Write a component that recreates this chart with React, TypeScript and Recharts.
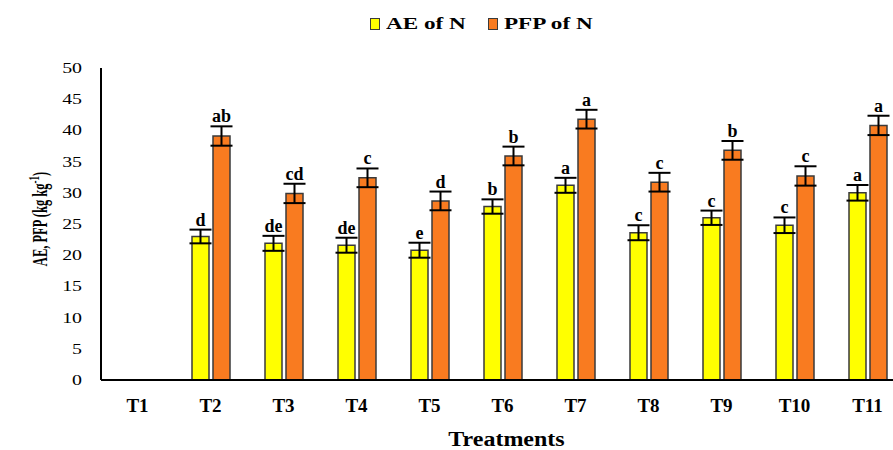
import React from 'react';
import { BarChart, Bar, XAxis, YAxis, ErrorBar, LabelList, Label } from 'recharts';

const categories = ['T1', 'T2', 'T3', 'T4', 'T5', 'T6', 'T7', 'T8', 'T9', 'T10', 'T11'];
const aeValues = [null, 23.0, 21.9, 21.6, 20.8, 27.8, 31.2, 23.6, 26.0, 24.8, 30.0];
const pfpValues = [null, 39.1, 29.9, 32.4, 28.7, 35.9, 41.8, 31.7, 36.8, 32.7, 40.8];
const aeErrors = [null, 1.1, 1.2, 1.2, 1.2, 1.15, 1.2, 1.2, 1.15, 1.25, 1.25];
const pfpErrors = [null, 1.55, 1.55, 1.5, 1.5, 1.5, 1.5, 1.5, 1.5, 1.55, 1.55];
const aeLetters = ['', 'd', 'de', 'de', 'e', 'b', 'a', 'c', 'c', 'c', 'a'];
const pfpLetters = ['', 'ab', 'cd', 'c', 'd', 'b', 'a', 'c', 'b', 'c', 'a'];
const yTicks = [0, 5, 10, 15, 20, 25, 30, 35, 40, 45, 50];

const data = categories.map((name, i) => ({
  name,
  ae: aeValues[i],
  pfp: pfpValues[i],
  aeErr: aeErrors[i],
  pfpErr: pfpErrors[i],
}));

const FONT = '"Liberation Serif", "Times New Roman", serif';
const YELLOW = '#ffff00';
const ORANGE = '#f97b20';
const EDGE = '#3a3a3a';

// letters sit just above the error bar cap; look up by category since index skips empty bars
function makeLetterLabel(letters: string[], values: (number | null)[], errors: (number | null)[]) {
  return (props: any) => {
    const { x, y, width, height, value } = props;
    const i = categories.indexOf(value);
    if (i < 0) return null;
    const v = values[i];
    const e = errors[i];
    if (v == null || !letters[i]) return null;
    const pxPerUnit = Number(height) / v;
    const top = Number(y) - (e || 0) * pxPerUnit;
    return (
      <text
        x={Number(x) + Number(width) / 2}
        y={top - 4}
        textAnchor="middle"
        fontFamily={FONT}
        fontWeight="bold"
        fontSize={18}
        fill="#000"
      >
        {letters[i]}
      </text>
    );
  };
}

const YTick = (props: any) => {
  const { x, y, payload } = props;
  return (
    <text
      transform={`translate(${x},${y}) scale(1.42,1)`}
      textAnchor="end"
      dy="0.35em"
      fontFamily={FONT}
      fontSize={14}
      fill="#000"
    >
      {payload.value}
    </text>
  );
};

const legendItems = [
  { label: 'AE of N', color: YELLOW, left: 370 },
  { label: 'PFP of N', color: ORANGE, left: 488 },
];

function ChartLegend() {
  return (
    <>
      {legendItems.map((it) => (
        <div key={it.label} style={{ position: 'absolute', left: it.left, top: 14, height: 22 }}>
          <span
            style={{
              position: 'absolute',
              left: 0,
              top: 4,
              width: 8,
              height: 10,
              background: it.color,
              border: `1.5px solid ${EDGE}`,
            }}
          />
          <span
            style={{
              position: 'absolute',
              left: 16,
              top: 0,
              whiteSpace: 'nowrap',
              fontFamily: FONT,
              fontWeight: 'bold',
              fontSize: 17,
              lineHeight: '20px',
              transform: 'scaleX(1.36)',
              transformOrigin: 'left center',
            }}
          >
            {it.label}
          </span>
        </div>
      ))}
    </>
  );
}

export default function App() {
  return (
    <div style={{ position: 'absolute', left: 0, top: 0, width: 893, height: 450, overflow: 'hidden', background: '#fff' }}>
      <ChartLegend />
      <BarChart
        width={910}
        height={450}
        data={data}
        margin={{ top: 68, right: 6, bottom: 0, left: 0 }}
        barSize={17}
        barGap={4}
      >
        <YAxis
          width={101}
          domain={[0, 50]}
          ticks={yTicks}
          interval={0}
          tickLine={false}
          tickSize={0}
          tickMargin={19}
          axisLine={{ stroke: '#000', strokeWidth: 2 }}
          tick={<YTick />}
        >
          <Label
            content={(p: any) => {
              const vb = p.viewBox || {};
              const cy = vb.y + vb.height / 2 - 5;
              return (
                <text
                  transform={`translate(47,${cy}) scale(1.7,1) rotate(-90)`}
                  textAnchor="middle"
                  fontFamily={FONT}
                  fontWeight="bold"
                  fontSize={12.5}
                  fill="#000"
                >
                  AE, PFP (kg kg
                  <tspan dy={-5} fontSize={9}>-1</tspan>
                  <tspan dy={5}>)</tspan>
                </text>
              );
            }}
          />
        </YAxis>
        <XAxis
          dataKey="name"
          height={70}
          interval={0}
          tickLine={false}
          tickSize={0}
          tickMargin={19}
          axisLine={{ stroke: '#000', strokeWidth: 2 }}
          tick={{ fontFamily: FONT, fontSize: 19, fontWeight: 'bold', fill: '#000' }}
        >
          <Label
            content={(p: any) => {
              const vb = p.viewBox || {};
              const cx = vb.x + vb.width / 2 + 4;
              return (
                <text
                  transform={`translate(${cx},446) scale(1.2,1)`}
                  textAnchor="middle"
                  fontFamily={FONT}
                  fontWeight="bold"
                  fontSize={20}
                  fill="#000"
                >
                  Treatments
                </text>
              );
            }}
          />
        </XAxis>
        <Bar dataKey="ae" fill={YELLOW} stroke={EDGE} strokeWidth={1.5} isAnimationActive={false}>
          <ErrorBar dataKey="aeErr" width={11} stroke="#000" strokeWidth={2} />
          <LabelList dataKey="name" content={makeLetterLabel(aeLetters, aeValues, aeErrors)} />
        </Bar>
        <Bar dataKey="pfp" fill={ORANGE} stroke={EDGE} strokeWidth={1.5} isAnimationActive={false}>
          <ErrorBar dataKey="pfpErr" width={11} stroke="#000" strokeWidth={2} />
          <LabelList dataKey="name" content={makeLetterLabel(pfpLetters, pfpValues, pfpErrors)} />
        </Bar>
      </BarChart>
    </div>
  );
}
